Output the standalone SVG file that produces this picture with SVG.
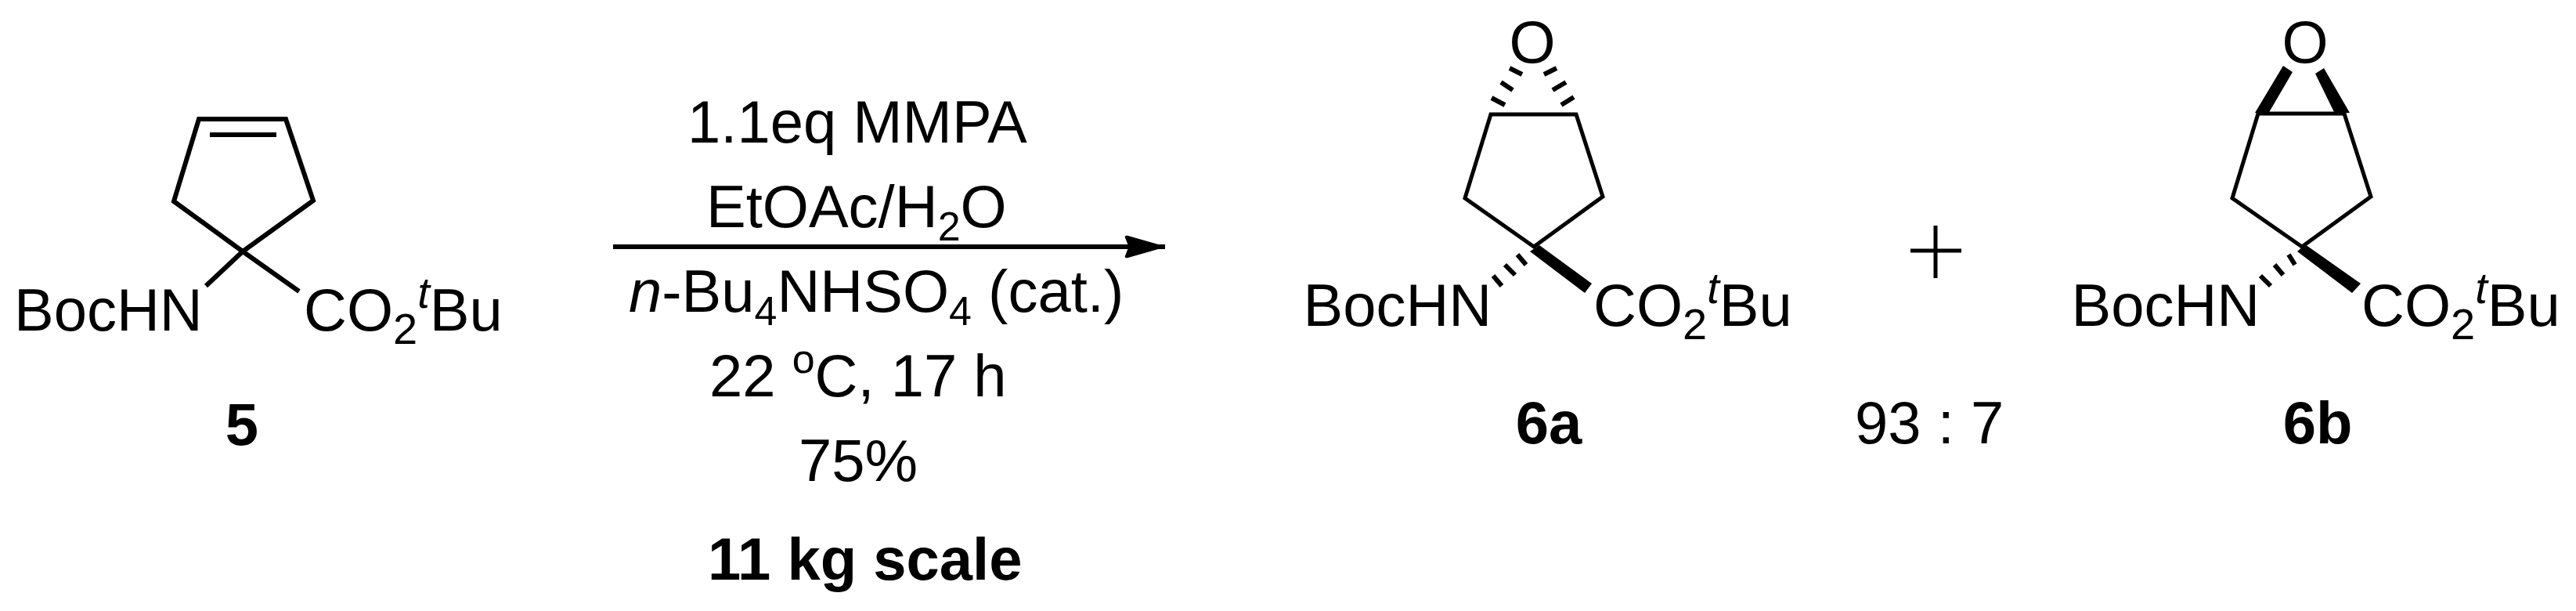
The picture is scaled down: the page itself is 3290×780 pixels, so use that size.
<svg xmlns="http://www.w3.org/2000/svg" width="3290" height="780" viewBox="0 0 3290 780">
<style>
text{font-family:"Liberation Sans",Arial,sans-serif;font-size:76px;fill:#000}
.b{font-weight:bold}
.s{font-size:56px}
.c{font-size:52px}
.i{font-style:italic}
.bond{fill:none;stroke:#000;stroke-width:6;stroke-linejoin:miter;stroke-linecap:butt}
.thin{stroke-width:5}
.hash{fill:none;stroke:#000;stroke-width:6;stroke-linecap:butt}
.solid{fill:#000;stroke:none}
</style>
<defs>
<marker id="head" markerUnits="userSpaceOnUse" markerWidth="54" markerHeight="32" refX="52" refY="15" orient="auto">
<path d="M1,2 L3,1 L52,15 L3,29 L1,28 L6,15 Z" fill="#000" stroke="#000" stroke-width="1" stroke-linejoin="round"/>
</marker>
</defs>
<rect width="3290" height="780" fill="#fff"/>
<g id="connectors">
<line id="reaction-arrow" x1="783" y1="315" x2="1488" y2="315" stroke="#000" stroke-width="6" marker-end="url(#head)"/>
</g>
<g id="compound-5">
<path class="bond" d="M254,152 H365 L400,256 L310,321 L222,257 Z"/>
<line class="bond" x1="268" y1="172" x2="353" y2="172"/>
<path class="bond" d="M310,321 L263,365 M310,321 L382,372"/>
<text x="18" y="422">BocHN</text>
<text x="388" y="422">CO<tspan class="s" dy="17">2</tspan><tspan class="s i" dy="-46">t</tspan><tspan dy="29">Bu</tspan></text>
<text class="b" x="309" y="568" text-anchor="middle">5</text>
</g>
<g id="conditions">
<text x="878" y="182">1.1eq MMPA</text>
<text x="902" y="290">EtOAc/H<tspan class="c" dy="17">2</tspan><tspan dy="-17">O</tspan></text>
<text x="803" y="398"><tspan class="i">n</tspan>-Bu<tspan class="c" dy="17">4</tspan><tspan dy="-17">NHSO</tspan><tspan class="c" dy="17">4</tspan><tspan dy="-17"> (cat.)</tspan></text>
<text x="906" y="506">22 <tspan class="c" dy="-30">o</tspan><tspan dy="30">C, 17 h</tspan></text>
<text x="1020" y="614">75%</text>
<text class="b" x="904" y="740">11 kg scale</text>
</g>
<g id="compound-6a">
<text x="1957" y="80" text-anchor="middle">O</text>
<path class="bond thin" d="M1904,146 H2013 L2047,251 L1959,315 L1871,253 Z"/>
<path class="hash" d="M1928,87 L1944,95 M1917,105 L1932,115 M1905,125 L1922,134 M1988,87 L1972,95 M2000,105 L1983,115 M2010,124 L1994,134"/>
<path class="solid" d="M1954,321 L1966,313 L2033,362 L2024,374 Z"/>
<path class="hash" d="M1938,325 L1949,338 M1922,338 L1935,351 M1907,352 L1918,365"/>
<text x="1664.5" y="416">BocHN</text>
<text x="2035" y="416">CO<tspan class="s" dy="17">2</tspan><tspan class="s i" dy="-46">t</tspan><tspan dy="29">Bu</tspan></text>
<text class="b" x="1978" y="566" text-anchor="middle">6a</text>
</g>
<g id="plus">
<path class="bond thin" d="M2472,288 V355 M2440,320 H2505"/>
</g>
<g id="ratio">
<text x="2369" y="566">93 : 7</text>
</g>
<g id="compound-6b">
<text x="2944" y="80" text-anchor="middle">O</text>
<path class="bond thin" d="M2884,145 H2994 L3028,251 L2940,315 L2851,253 Z"/>
<path class="solid" d="M2880,144 L2897,145 L2928,92 L2916,84 Z"/>
<path class="solid" d="M2968,87 L2957,94 L2982,145 L3001,144 Z"/>
<path class="solid" d="M2934,321 L2944,312 L3015,362 L3004,374 Z"/>
<path class="hash" d="M2923,325 L2931,338 M2905,338 L2916,351 M2887,352 L2900,365"/>
<text x="2645.5" y="416">BocHN</text>
<text x="3016" y="416">CO<tspan class="s" dy="17">2</tspan><tspan class="s i" dy="-46">t</tspan><tspan dy="29">Bu</tspan></text>
<text class="b" x="2960" y="566" text-anchor="middle">6b</text>
</g>
</svg>
